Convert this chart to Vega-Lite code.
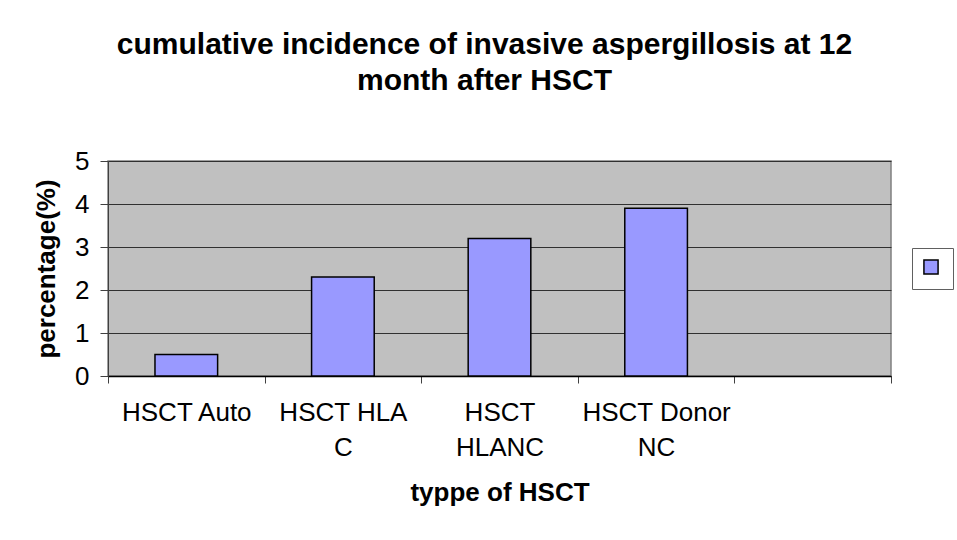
{
  "$schema": "https://vega.github.io/schema/vega-lite/v6.json",
  "autosize": {"type": "none"},
  "width": 783,
  "height": 215,
  "padding": {"left": 108, "top": 161, "right": 66, "bottom": 164},
  "background": "white",
  "title": {
    "text": ["cumulative incidence of invasive aspergillosis at 12", "month after HSCT"],
    "font": "Liberation Sans",
    "fontSize": 30,
    "fontWeight": "bold",
    "lineHeight": 36,
    "color": "black",
    "anchor": "middle",
    "dx": -15,
    "offset": 52
  },
  "data": {
    "values": [
      {"type": "HSCT Auto", "pct": 0.5, "series": "s"},
      {"type": "HSCT HLA C", "pct": 2.3, "series": "s"},
      {"type": "HSCT HLANC", "pct": 3.2, "series": "s"},
      {"type": "HSCT Donor NC", "pct": 3.9, "series": "s"}
    ]
  },
  "mark": {"type": "bar", "width": {"band": 0.4}, "stroke": "black", "strokeWidth": 1.5},
  "encoding": {
    "x": {
      "field": "type",
      "type": "nominal",
      "sort": null,
      "scale": {"domain": ["HSCT Auto", "HSCT HLA C", "HSCT HLANC", "HSCT Donor NC", " "], "paddingInner": 0, "paddingOuter": 0},
      "axis": {
        "title": "typpe of HSCT",
        "titleFont": "Liberation Sans",
        "titleFontSize": 26,
        "titleFontWeight": "bold",
        "titleColor": "black",
        "titlePadding": 19,
        "labelAngle": 0,
        "labelFont": "Liberation Sans",
        "labelFontSize": 26,
        "labelColor": "black",
        "labelLineHeight": 35,
        "labelPadding": 16,
        "labelExpr": "datum.value == 'HSCT HLA C' ? ['HSCT HLA', 'C'] : datum.value == 'HSCT HLANC' ? ['HSCT', 'HLANC'] : datum.value == 'HSCT Donor NC' ? ['HSCT Donor', 'NC'] : datum.value",
        "tickBand": "extent",
        "tickSize": 7,
        "tickColor": "#404040",
        "domainColor": "black",
        "domainWidth": 1.5,
        "grid": false
      }
    },
    "y": {
      "field": "pct",
      "type": "quantitative",
      "scale": {"domain": [0, 5], "nice": false},
      "axis": {
        "title": "percentage(%)",
        "titleFont": "Liberation Sans",
        "titleFontSize": 26,
        "titleFontWeight": "bold",
        "titleColor": "black",
        "titlePadding": 15,
        "values": [0, 1, 2, 3, 4, 5],
        "labelFont": "Liberation Sans",
        "labelFontSize": 26,
        "labelColor": "black",
        "labelPadding": 11,
        "tickSize": 8,
        "tickColor": "#404040",
        "domainColor": "#404040",
        "grid": true,
        "gridColor": "#303030",
        "gridWidth": 1,
        "gridOpacity": 1
      }
    },
    "fill": {
      "field": "series",
      "type": "nominal",
      "scale": {"range": ["#9999FF"]},
      "legend": {
        "orient": "none",
        "legendX": 804,
        "legendY": 87,
        "title": null,
        "labelExpr": "''",
        "labelFontSize": 1,
        "labelOffset": 0,
        "symbolType": "square",
        "symbolSize": 200,
        "symbolStrokeColor": "black",
        "symbolStrokeWidth": 1.5,
        "padding": 11,
        "strokeColor": "#606060",
        "fillColor": "white"
      }
    }
  },
  "config": {
    "view": {"fill": "#C0C0C0", "stroke": "#808080", "strokeWidth": 1.5}
  }
}
